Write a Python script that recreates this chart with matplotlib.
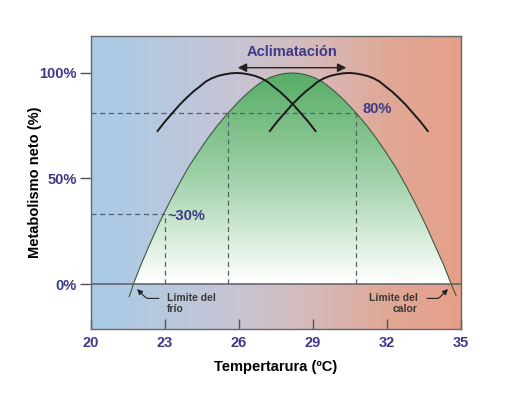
import numpy as np
import matplotlib.pyplot as plt
from matplotlib.colors import LinearSegmentedColormap
from matplotlib.patches import Polygon

plt.rcParams['font.family'] = ['Liberation Sans', 'DejaVu Sans']

# curva principal (metabolismo neto vs temperatura)
temp = [21.55, 21.72, 22.02, 22.35, 22.75, 23.15, 23.55, 23.95, 24.35, 24.75, 25.15, 25.45, 25.75,
        26.05, 26.35, 26.65, 26.95, 27.25, 27.55, 27.85, 28.15,
        28.45, 28.75, 29.05, 29.35, 29.65, 29.95, 30.25, 30.55, 30.85, 31.15, 31.55, 31.95,
        32.35, 32.75, 33.15, 33.55, 33.95, 34.3, 34.6, 34.8]
metab = [-6, 0, 9, 18, 28.5, 38, 47, 55.3, 62.5, 69.3, 75.5, 79.6, 83.5,
         87.2, 90.5, 93.5, 96.0, 97.8, 99.0, 99.75, 100,
         99.75, 99.0, 97.8, 96.0, 93.5, 90.5, 87.2, 83.5, 79.6, 75.5, 69.3, 62.5,
         55.3, 47.0, 38, 28.5, 18, 9, 0, -5.5]

# curvas aclimatadas (frio / calor)
temp_frio = [22.7, 23.0, 23.3, 23.6, 23.9, 24.15, 24.4, 24.65, 24.9, 25.15, 25.4, 25.65, 25.9,
             26.15, 26.4, 26.65, 26.9, 27.15, 27.4, 27.65, 27.9, 28.2, 28.5, 28.8, 29.1]
temp_calor = [27.25, 27.55, 27.85, 28.15, 28.45, 28.7, 28.95, 29.2, 29.45, 29.7, 29.95, 30.2, 30.45,
              30.7, 30.95, 31.2, 31.45, 31.7, 31.95, 32.2, 32.45, 32.75, 33.05, 33.35, 33.65]
metab_acl = [72.5, 77, 81, 85, 88.5, 91.2, 93.5, 95.9, 97.5, 98.6, 99.3, 99.8, 100,
             99.8, 99.3, 98.6, 97.5, 95.9, 93.5, 91.2, 88.5, 85, 81, 77, 72.5]

xticks = [20, 23, 26, 29, 32, 35]
yticks = [0, 50, 100]
ylabels = ['0%', '50%', '100%']

# referencias punteadas
t80 = [25.55, 30.75]
v80 = 81
t30 = 23.0
v30 = 33

blue = '#3d3a8a'
dash = '#56606e'

fig = plt.figure(figsize=(5.1, 3.94), dpi=100)
ax = fig.add_axes([0.1784, 0.165, 0.7256, 0.7436])
xlim = (20, 35)
ylim = (-21.3, 117.5)

bg = LinearSegmentedColormap.from_list('bg', [(0, '#a9cbe8'), (0.2, '#b8c8de'), (0.4, '#c8c4d3'),
                                              (0.6, '#d6b9b9'), (0.8, '#e0a896'), (1, '#e69f88')])
ax.imshow(np.linspace(0, 1, 256).reshape(1, -1), extent=[*xlim, *ylim], cmap=bg,
          aspect='auto', zorder=0)

# relleno verde con degradado
gr = LinearSegmentedColormap.from_list('gr', [(0, '#ffffff'), (0.05, '#f7fbf7'), (0.5, '#a0d2a8'),
                                              (1, '#56ac66')])
im = ax.imshow(np.linspace(0, 1, 256).reshape(-1, 1), extent=[20, 35, 0, 100], origin='lower',
               cmap=gr, aspect='auto', zorder=1)
pts = list(zip(temp[1:-1], metab[1:-1]))
clip = Polygon(pts, closed=True, facecolor='none', edgecolor='none')
ax.add_patch(clip)
im.set_clip_path(clip)

ax.plot(temp, metab, color='#3c5a42', lw=0.8, zorder=3)
ax.plot(temp_frio, metab_acl, color='#1a1a1a', lw=1.4, zorder=4)
ax.plot(temp_calor, metab_acl, color='#1a1a1a', lw=1.4, zorder=4)

ax.axhline(0, color='#5e5e66', lw=1.1, zorder=3)

ls = dict(color=dash, lw=0.9, ls=(0, (4, 3)), zorder=2)
ax.plot([xlim[0], t80[1]], [v80, v80], **ls)
for t in t80:
    ax.plot([t, t], [0, v80], **ls)
ax.plot([xlim[0], t30], [v30, v30], **ls)
ax.plot([t30, t30], [0, v30], **ls)

ax.annotate('', xy=(25.95, 102.5), xytext=(30.35, 102.5),
            arrowprops=dict(arrowstyle='<|-|>', color='#222222', lw=1.0,
                            mutation_scale=13, shrinkA=0, shrinkB=0), zorder=5)
ax.text(28.15, 110.0, 'Aclimatación', ha='center', va='center', color=blue,
        fontsize=10.5, fontweight='bold')
ax.text(31.0, 83, '80%', ha='left', va='center', color=blue, fontsize=10.5, fontweight='bold')
ax.text(23.1, 32, '~30%', ha='left', va='center', color=blue, fontsize=10.5, fontweight='bold')

ann = dict(fontsize=7.5, fontweight='bold', color='#3a3a3a', linespacing=1.15, va='top')
ax.text(23.09, -4.3, 'Límite del\nfrío', ha='left', **ann)
ax.text(33.25, -4.3, 'Límite del\ncalor', ha='right', multialignment='right', **ann)
ax.annotate('', xy=(21.87, -2.4), xytext=(22.75, -6.8),
            arrowprops=dict(arrowstyle='-|>', color='#222222', lw=0.8, mutation_scale=8,
                            shrinkA=0, shrinkB=0,
                            connectionstyle='angle,angleA=0,angleB=-45,rad=2'))
ax.annotate('', xy=(34.47, -2.4), xytext=(33.62, -6.8),
            arrowprops=dict(arrowstyle='-|>', color='#222222', lw=0.8, mutation_scale=8,
                            shrinkA=0, shrinkB=0,
                            connectionstyle='angle,angleA=0,angleB=45,rad=2'))

ax.set_xlim(*xlim)
ax.set_ylim(*ylim)
ax.set_xticks(xticks)
ax.set_xticklabels([str(t) for t in xticks])
ax.set_yticks(yticks)
ax.set_yticklabels(ylabels)
ax.tick_params(axis='x', direction='in', length=7, width=1, color='#555555', pad=5,
               labelsize=10.5, labelcolor=blue)
ax.tick_params(axis='y', direction='out', length=8, width=1, color='#555555', pad=2,
               labelsize=10.5, labelcolor=blue)
for lab in ax.get_xticklabels() + ax.get_yticklabels():
    lab.set_fontweight('bold')
for s in ax.spines.values():
    s.set_color('#666666')
    s.set_linewidth(1.0)

ax.set_xlabel('Tempertarura (ºC)', fontsize=10.5, fontweight='bold', labelpad=7)
ax.set_ylabel('Metabolismo neto (%)', fontsize=10.5, fontweight='bold', labelpad=-2)

fig.savefig('out.png', dpi=100)
